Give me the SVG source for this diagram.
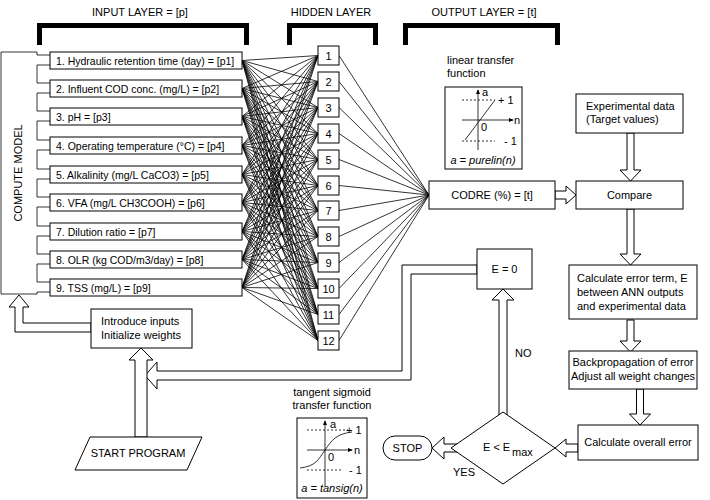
<svg xmlns="http://www.w3.org/2000/svg" width="710" height="500" viewBox="0 0 710 500">
<style>
text{font-family:"Liberation Sans",Arial,sans-serif;font-size:11px;fill:#000}
#inputs text{font-size:10.5px}
.b{fill:#fff;stroke:#000;stroke-width:1}
.l{fill:none;stroke:#000;stroke-width:0.8}
.br{fill:none;stroke:#000;stroke-width:5}
.d{stroke:#000;stroke-width:0.8;stroke-dasharray:2,2;fill:none}
.c{text-anchor:middle}
</style>
<defs><marker id="ah" markerWidth="6" markerHeight="6" refX="5" refY="3" orient="auto"><path d="M0,0.5 L6,3 L0,5.5Z"/></marker></defs>
<text class="c" x="140" y="16">INPUT LAYER = [p]</text>
<text class="c" x="331" y="16">HIDDEN LAYER</text>
<text class="c" x="484" y="16">OUTPUT LAYER = [t]</text>
<path class="br" d="M39.5,45V25.5H246.5V45M289.5,45V25.5H375.5V45M405.5,45V25.5H557.5V45"/>
<g id="connectors">
<path class="l" stroke-width="0.6" d="M242,60.5L318,55.5M242,60.5L318,81.5M242,60.5L318,107.5M242,60.5L318,133.5M242,60.5L318,159.5M242,60.5L318,185.5M242,60.5L318,210.5M242,60.5L318,236.5M242,60.5L318,262.5M242,60.5L318,288.5M242,60.5L318,314.5M242,60.5L318,340.5
M242,88.5L318,55.5M242,88.5L318,81.5M242,88.5L318,107.5M242,88.5L318,133.5M242,88.5L318,159.5M242,88.5L318,185.5M242,88.5L318,210.5M242,88.5L318,236.5M242,88.5L318,262.5M242,88.5L318,288.5M242,88.5L318,314.5M242,88.5L318,340.5
M242,116.5L318,55.5M242,116.5L318,81.5M242,116.5L318,107.5M242,116.5L318,133.5M242,116.5L318,159.5M242,116.5L318,185.5M242,116.5L318,210.5M242,116.5L318,236.5M242,116.5L318,262.5M242,116.5L318,288.5M242,116.5L318,314.5M242,116.5L318,340.5
M242,145.5L318,55.5M242,145.5L318,81.5M242,145.5L318,107.5M242,145.5L318,133.5M242,145.5L318,159.5M242,145.5L318,185.5M242,145.5L318,210.5M242,145.5L318,236.5M242,145.5L318,262.5M242,145.5L318,288.5M242,145.5L318,314.5M242,145.5L318,340.5
M242,174.5L318,55.5M242,174.5L318,81.5M242,174.5L318,107.5M242,174.5L318,133.5M242,174.5L318,159.5M242,174.5L318,185.5M242,174.5L318,210.5M242,174.5L318,236.5M242,174.5L318,262.5M242,174.5L318,288.5M242,174.5L318,314.5M242,174.5L318,340.5
M242,202.5L318,55.5M242,202.5L318,81.5M242,202.5L318,107.5M242,202.5L318,133.5M242,202.5L318,159.5M242,202.5L318,185.5M242,202.5L318,210.5M242,202.5L318,236.5M242,202.5L318,262.5M242,202.5L318,288.5M242,202.5L318,314.5M242,202.5L318,340.5
M242,231.5L318,55.5M242,231.5L318,81.5M242,231.5L318,107.5M242,231.5L318,133.5M242,231.5L318,159.5M242,231.5L318,185.5M242,231.5L318,210.5M242,231.5L318,236.5M242,231.5L318,262.5M242,231.5L318,288.5M242,231.5L318,314.5M242,231.5L318,340.5
M242,259.5L318,55.5M242,259.5L318,81.5M242,259.5L318,107.5M242,259.5L318,133.5M242,259.5L318,159.5M242,259.5L318,185.5M242,259.5L318,210.5M242,259.5L318,236.5M242,259.5L318,262.5M242,259.5L318,288.5M242,259.5L318,314.5M242,259.5L318,340.5
M242,287.5L318,55.5M242,287.5L318,81.5M242,287.5L318,107.5M242,287.5L318,133.5M242,287.5L318,159.5M242,287.5L318,185.5M242,287.5L318,210.5M242,287.5L318,236.5M242,287.5L318,262.5M242,287.5L318,288.5M242,287.5L318,314.5M242,287.5L318,340.5"/>
<path class="l" d="M339,55.5L429,195M339,81.5L429,195M339,107.5L429,195M339,133.5L429,195M339,159.5L429,195M339,185.5L429,195M339,210.5L429,195M339,236.5L429,195M339,262.5L429,195M339,288.5L429,195M339,314.5L429,195M339,340.5L429,195"/>
<path class="l" d="M37,52H1V294H37M37,52V55H50M50,65H37V83H50M50,93H37V111H50M50,121H37V140H50M50,150H37V169H50M50,179H37V197H50M50,207H37V226H50M50,236H37V254H50M50,264H37V282H50M50,292H37V294"/>
<polygon class="b" points="627,133 627,170 620,170 630.5,181 641,170 634,170 634,133"/>
<polygon class="b" points="627,209 627,254 620,254 630.5,265 641,254 634,254 634,209"/>
<polygon class="b" points="627,320 627,341 620,341 630.5,352 641,341 634,341 634,320"/>
<polygon class="b" points="636.5,389 636.5,414 629.5,414 640,425 650.5,414 643.5,414 643.5,389"/>
<polygon class="b" points="555,191 566,191 566,186 576,195 566,204 566,199 555,199"/>
<polygon class="b" points="578,444 566,444 566,439 555,448 566,457 566,452 578,452"/>
<polygon class="b" points="460,444 444,444 444,437 432,448 444,459 444,452 460,452"/>
<polygon class="b" points="499,420 499,300 492,300 503,289 514,300 507,300 507,420"/>
<polygon class="b" points="477,265 402,265 402,371 157,371 157,362 145,375.5 157,389 157,380 411,380 411,274 477,274"/>
<polygon class="b" points="135,437 135,360 129,360 141,348 153,360 147,360 147,437"/>
<polygon class="b" points="91,323 23,323 23,307 29,307 19,295 9,307 15,307 15,332 91,332"/>
</g>
<text class="c" transform="translate(22,173) rotate(-90)">COMPUTE MODEL</text>
<g id="inputs">
<rect class="b" x="50" y="52" width="192" height="17"/><text x="56" y="65">1. Hydraulic retention time (day) = [p1]</text>
<rect class="b" x="50" y="80" width="192" height="17"/><text x="56" y="93">2. Influent COD conc. (mg/L) = [p2]</text>
<rect class="b" x="50" y="108" width="192" height="17"/><text x="56" y="121">3. pH = [p3]</text>
<rect class="b" x="50" y="137" width="192" height="17"/><text x="56" y="150">4. Operating temperature (°C) = [p4]</text>
<rect class="b" x="50" y="166" width="192" height="17"/><text x="56" y="179">5. Alkalinity (mg/L CaCO3) = [p5]</text>
<rect class="b" x="50" y="194" width="192" height="17"/><text x="56" y="207">6. VFA (mg/L CH3COOH) = [p6]</text>
<rect class="b" x="50" y="223" width="192" height="17"/><text x="56" y="236">7. Dilution ratio = [p7]</text>
<rect class="b" x="50" y="251" width="192" height="17"/><text x="56" y="264">8. OLR (kg COD/m3/day) = [p8]</text>
<rect class="b" x="50" y="279" width="192" height="17"/><text x="56" y="292">9. TSS (mg/L) = [p9]</text>
</g>
<g id="hidden">
<rect class="b" x="318" y="46" width="21" height="19"/><text class="c" x="328.5" y="59.5">1</text>
<rect class="b" x="318" y="72" width="21" height="19"/><text class="c" x="328.5" y="85.5">2</text>
<rect class="b" x="318" y="98" width="21" height="19"/><text class="c" x="328.5" y="111.5">3</text>
<rect class="b" x="318" y="124" width="21" height="19"/><text class="c" x="328.5" y="137.5">4</text>
<rect class="b" x="318" y="150" width="21" height="19"/><text class="c" x="328.5" y="163.5">5</text>
<rect class="b" x="318" y="176" width="21" height="19"/><text class="c" x="328.5" y="189.5">6</text>
<rect class="b" x="318" y="201" width="21" height="19"/><text class="c" x="328.5" y="214.5">7</text>
<rect class="b" x="318" y="227" width="21" height="19"/><text class="c" x="328.5" y="240.5">8</text>
<rect class="b" x="318" y="253" width="21" height="19"/><text class="c" x="328.5" y="266.5">9</text>
<rect class="b" x="318" y="279" width="21" height="19"/><text class="c" x="328.5" y="292.5">10</text>
<rect class="b" x="318" y="305" width="21" height="19"/><text class="c" x="328.5" y="318.5">11</text>
<rect class="b" x="318" y="331" width="21" height="19"/><text class="c" x="328.5" y="344.5">12</text>
</g>
<g id="codre"><rect class="b" x="429" y="181" width="126" height="28"/><text class="c" x="492" y="199">CODRE (%) = [t]</text></g>
<g id="linear">
<text x="447" y="64">linear transfer</text><text x="447" y="77">function</text>
<rect class="b" x="445" y="87" width="77" height="82"/>
<line class="l" x1="478" y1="150" x2="478" y2="90" marker-end="url(#ah)"/>
<line class="l" x1="462" y1="120" x2="513" y2="120" marker-end="url(#ah)"/>
<line class="d" x1="462" y1="100" x2="495" y2="100"/><line class="d" x1="462" y1="141" x2="495" y2="141"/>
<line class="l" x1="465" y1="140" x2="495" y2="100"/>
<text x="482" y="96">a</text><text x="514" y="124">n</text><text x="481" y="131">0</text>
<text x="498" y="104">+ 1</text><text x="504" y="145">- 1</text>
<text class="c" x="483" y="164" font-style="italic">a = purelin(n)</text>
</g>
<g id="experimental"><rect class="b" x="576" y="94" width="107" height="39"/><text x="586" y="110">Experimental data</text><text x="586" y="123">(Target values)</text></g>
<g id="compare"><rect class="b" x="576" y="181" width="107" height="28"/><text class="c" x="629.5" y="199">Compare</text></g>
<g id="calcerr"><rect class="b" x="569" y="265" width="128" height="54"/><text x="577" y="282">Calculate error term, E</text><text x="577" y="296">between ANN outputs</text><text x="577" y="310">and experimental data</text></g>
<g id="backprop"><rect class="b" x="569" y="351" width="128" height="38"/><text class="c" x="633" y="366">Backpropagation of error</text><text class="c" x="633" y="380">Adjust all weight changes</text></g>
<g id="overall"><rect class="b" x="578" y="425" width="120" height="35"/><text class="c" x="638" y="446">Calculate overall error</text></g>
<g id="decision"><polygon class="b" points="503,412 555,448 503,484 451,448"/><text x="483" y="451">E &lt; E</text><text x="512" y="456">max</text></g>
<g id="stop"><rect class="b" x="383" y="436" width="49" height="24" rx="12"/><text class="c" x="407.5" y="452">STOP</text></g>
<text x="453" y="476">YES</text>
<text x="515" y="357">NO</text>
<g id="e0"><rect class="b" x="477" y="249" width="55" height="40"/><text class="c" x="504.5" y="273">E = 0</text></g>
<g id="introduce"><rect class="b" x="91" y="309" width="101" height="39"/><text x="101" y="325">Introduce inputs</text><text x="101" y="339">Initialize weights</text></g>
<g id="start"><polygon class="b" points="90,437 202,437 187,470 75,470"/><text class="c" x="138" y="457">START PROGRAM</text></g>
<g id="tansig">
<text class="c" x="332" y="396">tangent sigmoid</text><text class="c" x="332" y="409">transfer function</text>
<rect class="b" x="297" y="418" width="70" height="80"/>
<line class="l" x1="325" y1="486" x2="325" y2="421" marker-end="url(#ah)"/>
<line class="l" x1="307" y1="450" x2="352" y2="450" marker-end="url(#ah)"/>
<line class="d" x1="307" y1="430" x2="348" y2="430"/><line class="d" x1="307" y1="470" x2="343" y2="470"/>
<path class="l" d="M300,468C316,466 318,460 325,450S336,434 352,432"/>
<text x="330" y="428">a</text><text x="354" y="454">n</text><text x="328" y="461">0</text>
<text x="346" y="434">+ 1</text><text x="349" y="474">- 1</text>
<text class="c" x="332" y="492" font-style="italic">a = tansig(n)</text>
</g>
</svg>
